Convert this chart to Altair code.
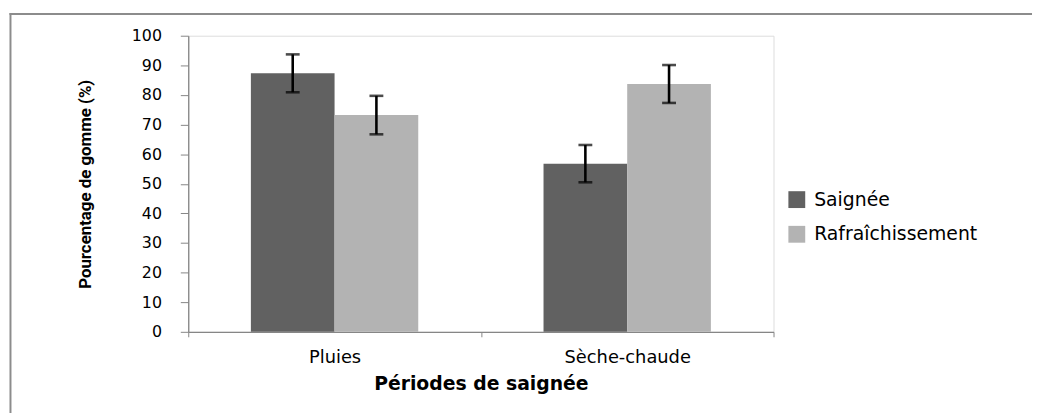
import altair as alt
import pandas as pd

# ---- data ----
periodes = ["Pluies", "Sèche-chaude"]
series = ["Saignée", "Rafraîchissement"]
saignee = [87.3, 56.8]
rafraichissement = [73.2, 83.7]
err_saignee = [6.4, 6.3]
err_rafraichissement = [6.5, 6.4]
couleurs = ["#616161", "#b3b3b3"]
y_ticks = [0, 10, 20, 30, 40, 50, 60, 70, 80, 90, 100]

rows = []
for i, p in enumerate(periodes):
    rows.append({"periode": p, "serie": series[0], "valeur": saignee[i], "erreur": err_saignee[i]})
    rows.append({"periode": p, "serie": series[1], "valeur": rafraichissement[i], "erreur": err_rafraichissement[i]})
df = pd.DataFrame(rows)

AXIS_GRAY = "#868686"

x_enc = alt.X(
    "periode:N",
    sort=periodes,
    scale=alt.Scale(paddingInner=0, paddingOuter=0),
    axis=alt.Axis(
        title="Périodes de saignée",
        labelAngle=0,
        tickBand="extent",
        tickSize=5,
        tickColor=AXIS_GRAY,
        domainColor=AXIS_GRAY,
        domainWidth=1.3,
        labelFont="DejaVu Sans",
        labelFontSize=18,
        labelColor="black",
        labelPadding=12,
        titleFont="DejaVu Sans",
        titleFontSize=19,
        titleFontWeight="bold",
        titleColor="black",
        titleY=58.4,
        titleBaseline="alphabetic",
        grid=False,
    ),
)
xo_enc = alt.XOffset("serie:N", sort=series, scale=alt.Scale(paddingInner=0, paddingOuter=0.7485))

y_axis = alt.Axis(
    title="Pourcentage de gomme (%)",
    values=y_ticks,
    labelOverlap=False,
    tickSize=8,
    tickColor=AXIS_GRAY,
    domainColor=AXIS_GRAY,
    domainWidth=1.3,
    labelFont="DejaVu Sans",
    labelFontSize=16,
    labelColor="black",
    labelPadding=19,
    titleFont="Roboto",
    titleFontSize=17,
    titleFontWeight="bold",
    titleColor="black",
    titleAngle=270,
    titleX=-104,
    titleY=149.5,
    titleAlign="center",
    titleBaseline="middle",
    grid=False,
)
y_scale = alt.Scale(domain=[0, 100], nice=False)

base = alt.Chart(df).transform_calculate(
    low="datum.valeur - datum.erreur", high="datum.valeur + datum.erreur"
)

bars = base.mark_bar().encode(
    x=x_enc,
    xOffset=xo_enc,
    y=alt.Y("valeur:Q", scale=y_scale, axis=y_axis),
    color=alt.Color(
        "serie:N",
        sort=series,
        scale=alt.Scale(domain=series, range=couleurs),
        legend=alt.Legend(
            title=None,
            orient="none",
            legendX=605,
            legendY=156,
            symbolType="square",
            symbolSize=289,
            symbolStrokeWidth=0,
            labelFont="DejaVu Sans",
            labelFontSize=19,
            labelColor="black",
            labelOffset=8,
            labelLimit=400,
            rowPadding=15,
            padding=0,
        ),
    ),
)

rules = base.mark_rule(color="black", strokeWidth=2.6).encode(
    x=x_enc, xOffset=xo_enc, y=alt.Y("low:Q", scale=y_scale, axis=y_axis), y2="high:Q"
)
caps_low = base.mark_tick(color="black", thickness=2.6, size=14).encode(
    x=x_enc, xOffset=xo_enc, y=alt.Y("low:Q", scale=y_scale, axis=y_axis)
)
caps_high = base.mark_tick(color="black", thickness=2.6, size=14).encode(
    x=x_enc, xOffset=xo_enc, y=alt.Y("high:Q", scale=y_scale, axis=y_axis)
)

frame_df = pd.DataFrame({"k": [0]})
frame_top = alt.Chart(frame_df).mark_rule(color="#8c8c8c", strokeWidth=2).encode(
    x=alt.value(-180.5), x2=alt.value(852), y=alt.value(-22)
)
frame_left = alt.Chart(frame_df).mark_rule(color="#8c8c8c", strokeWidth=2).encode(
    x=alt.value(-179.5), y=alt.value(-23), y2=alt.value(381)
)

chart = (
    alt.layer(bars, rules, caps_low, caps_high, frame_top, frame_left)
    .properties(width=591, height=299, padding={"left": 0, "top": 2, "right": 0, "bottom": 0})
    .configure_view(stroke=None)
    .configure(background="white")
)

chart.save("out.html", embed_options={"renderer": "svg", "actions": False})
